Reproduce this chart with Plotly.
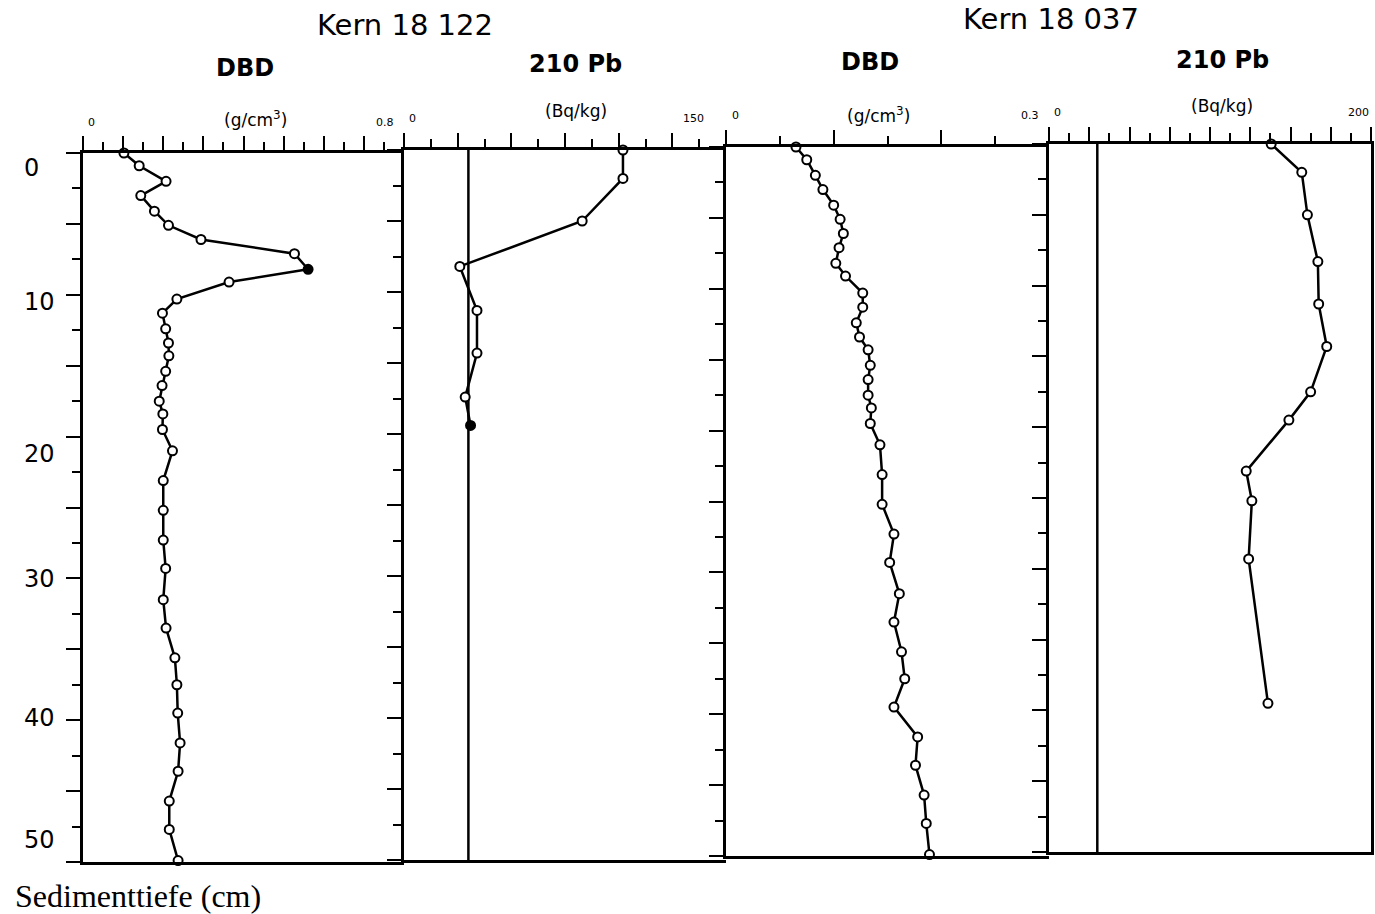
import plotly.graph_objects as go

W, H = 1375, 914

# Sediment depth of the DBD samples (cm), shared by both cores
depth_dbd = [0, 0.9, 2.0, 3.0, 4.1, 5.1, 6.1, 7.1, 8.2, 9.1, 10.3, 11.3, 12.4, 13.4,
             14.3, 15.4, 16.4, 17.5, 18.4, 19.5, 21.0, 23.1, 25.2, 27.3, 29.3, 31.5,
             33.5, 35.6, 37.5, 39.5, 41.6, 43.6, 45.7, 47.7, 49.9]

# Kern 18 122 - dry bulk density (g/cm3)
dbd_18122 = [0.102, 0.140, 0.207, 0.144, 0.178, 0.213, 0.294, 0.527, 0.561, 0.364,
             0.234, 0.198, 0.206, 0.213, 0.214, 0.206, 0.197, 0.190, 0.199, 0.198,
             0.223, 0.200, 0.200, 0.200, 0.206, 0.200, 0.207, 0.229, 0.234, 0.236,
             0.242, 0.237, 0.215, 0.215, 0.237]
dbd_18122_filled = [i == 8 for i in range(len(dbd_18122))]

# Kern 18 122 - 210Pb activity (Bq/kg)
depth_pb_18122 = [0, 2.0, 5.0, 8.2, 11.3, 14.3, 17.4, 19.4]
pb_18122 = [102, 102, 83, 26, 34, 34, 28.5, 31]
pb_18122_filled = [False, False, False, False, False, False, False, True]

# Kern 18 037 - dry bulk density (g/cm3)
dbd_18037 = [0.065, 0.075, 0.083, 0.090, 0.100, 0.106, 0.109, 0.105, 0.102, 0.111,
             0.127, 0.127, 0.121, 0.124, 0.132, 0.134, 0.132, 0.132, 0.135, 0.134,
             0.143, 0.145, 0.145, 0.156, 0.152, 0.161, 0.156, 0.163, 0.166, 0.156,
             0.178, 0.176, 0.184, 0.186, 0.189]

# Kern 18 037 - 210Pb activity (Bq/kg)
depth_pb_18037 = [0, 2.0, 5.0, 8.3, 11.3, 14.3, 17.5, 19.5, 23.1, 25.2, 29.3, 39.5]
pb_18037 = [138, 157, 160.5, 167, 167.5, 172.5, 162.5, 149, 122.5, 126, 124, 136]

# Supported 210Pb level (Bq/kg)
pb_supported = [30, 30]
depth_span = [0, 50]

depth_ticks = [0, 10, 20, 30, 40, 50]
depth_label_shift = [-15, -7, -17, -1, 2, 22]

# Panel frames in pixels and axis scales
panels = [
    dict(xmax=0.8, major=0.1, minor=0.05, left=83, right=404, top=153, bottom=862,
         lo="0", hi="0.8", lo_dx=8, hi_dx=-19, tick_y=123,
         unit="(g/cm<sup>3</sup>)", unit_x=255, unit_y=119,
         title="DBD", title_x=245, title_y=68),
    dict(xmax=150, major=25, minor=12.5, left=404, right=726, top=150, bottom=860,
         lo="0", hi="150", lo_dx=8, hi_dx=-33, tick_y=118,
         unit="(Bq/kg)", unit_x=576, unit_y=111,
         title="210 Pb", title_x=575, title_y=64),
    dict(xmax=0.3, major=0.1, minor=0.05, left=726, right=1049, top=147, bottom=856,
         lo="0", hi="0.3", lo_dx=9, hi_dx=-19, tick_y=116,
         unit="(g/cm<sup>3</sup>)", unit_x=878, unit_y=115,
         title="DBD", title_x=870, title_y=62),
    dict(xmax=200, major=25, minor=12.5, left=1049, right=1371, top=144, bottom=852,
         lo="0", hi="200", lo_dx=8, hi_dx=-13, tick_y=112,
         unit="(Bq/kg)", unit_x=1222, unit_y=106,
         title="210 Pb", title_x=1222, title_y=60),
]

SANS = "DejaVu Sans"
INK = "black"

fig = go.Figure()


def refs(n):
    s = "" if n == 1 else str(n)
    return "x" + s, "y" + s


def add_level(n, x, y):
    xr, yr = refs(n)
    fig.add_trace(go.Scatter(x=x, y=y, xaxis=xr, yaxis=yr, mode="lines",
                             line=dict(color=INK, width=2.5),
                             showlegend=False, hoverinfo="skip", cliponaxis=False))


def add_profile(n, x, y, filled=None):
    xr, yr = refs(n)
    if filled is None:
        filled = [False] * len(x)
    fills = [INK if f else "white" for f in filled]
    fig.add_trace(go.Scatter(x=x, y=y, xaxis=xr, yaxis=yr, mode="lines+markers",
                             line=dict(color=INK, width=2.5),
                             marker=dict(symbol="circle", size=9, color=fills,
                                         line=dict(color=INK, width=2)),
                             showlegend=False, hoverinfo="skip", cliponaxis=False))


add_profile(1, dbd_18122, depth_dbd, dbd_18122_filled)
add_level(2, pb_supported, depth_span)
add_profile(2, pb_18122, depth_pb_18122, pb_18122_filled)
add_profile(3, dbd_18037, depth_dbd)
add_level(4, pb_supported, depth_span)
add_profile(4, pb_18037, depth_pb_18037)

annotations = []


def note(text, px, py, size, family=SANS, xanchor="center", **kw):
    annotations.append(dict(text=text, x=px / W, y=1 - py / H, xref="paper", yref="paper",
                            xanchor=xanchor, yanchor="middle", showarrow=False,
                            font=dict(family=family, size=size, color=INK), **kw))


last = len(panels)
for i, p in enumerate(panels, start=1):
    s = "" if i == 1 else str(i)
    fig.layout["xaxis" + s] = dict(
        domain=[p["left"] / W, p["right"] / W], range=[0, p["xmax"]], side="top",
        anchor="y" + s, showline=True, linecolor=INK, linewidth=2.5, mirror=True,
        ticks="outside", ticklen=14, tickwidth=2, tickcolor=INK, tick0=0, dtick=p["major"],
        minor=dict(ticks="outside", ticklen=8, tickwidth=2, tickcolor=INK,
                   tick0=0, dtick=p["minor"], showgrid=False),
        showgrid=False, zeroline=False, showticklabels=False, fixedrange=True)
    # the next panel's left axis closes each frame, so only the last one mirrors
    fig.layout["yaxis" + s] = dict(
        domain=[1 - p["bottom"] / H, 1 - p["top"] / H], range=[50, 0],
        anchor="x" + s, showline=True, linecolor=INK, linewidth=2.5, mirror=(i == last),
        ticks="outside", ticklen=14, tickwidth=2, tickcolor=INK, tick0=0, dtick=5,
        minor=dict(ticks="outside", ticklen=8, tickwidth=2, tickcolor=INK,
                   tick0=0, dtick=2.5, showgrid=False),
        showgrid=False, zeroline=False, showticklabels=False, fixedrange=True)

    # scale end labels above the top axis
    for txt, xd, dx in ((p["lo"], 0, p["lo_dx"]), (p["hi"], 1, p["hi_dx"])):
        annotations.append(dict(text=txt, x=xd, y=1 - p["tick_y"] / H,
                                xref="x" + s + " domain", yref="paper",
                                xanchor="center", yanchor="middle", xshift=dx,
                                showarrow=False, font=dict(family=SANS, size=11, color=INK)))
    note(p["unit"], p["unit_x"], p["unit_y"], 17)
    note("<b>" + p["title"] + "</b>", p["title_x"], p["title_y"], 24)

note("Kern 18 122", 405, 25, 29)
note("Kern 18 037", 1051, 19, 29)

# depth labels beside the first panel
for val, dy in zip(depth_ticks, depth_label_shift):
    annotations.append(dict(text=str(val), x=22 / W, y=val, xref="paper", yref="y",
                            xanchor="left", yanchor="middle", yshift=dy, showarrow=False,
                            font=dict(family=SANS, size=24, color=INK)))

note("Sedimenttiefe (cm)", 13, 896, 32, family="Liberation Serif", xanchor="left")

fig.update_layout(width=W, height=H, margin=dict(l=0, r=0, t=0, b=0),
                  paper_bgcolor="white", plot_bgcolor="white",
                  annotations=annotations, showlegend=False)

fig.write_html("out.html")
